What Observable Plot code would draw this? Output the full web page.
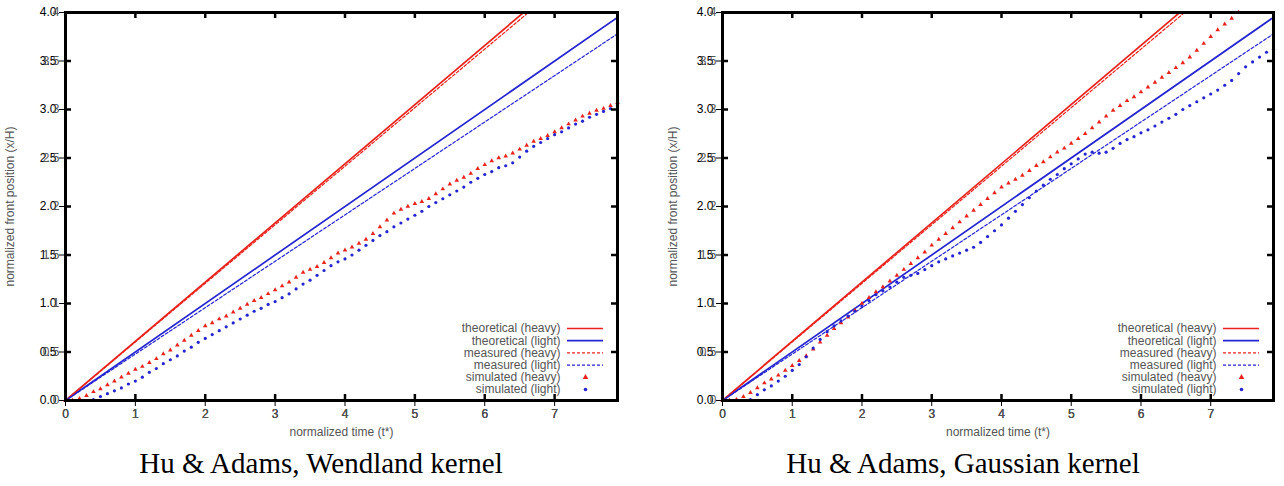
<!DOCTYPE html>
<html>
<head>
<meta charset="utf-8">
<script src="https://cdn.jsdelivr.net/npm/d3@7"></script>
<script src="https://cdn.jsdelivr.net/npm/@observablehq/plot@0.6"></script>
<style>
  body { margin: 0; background: #fff; }
  #wrap { position: relative; width: 1284px; height: 486px; overflow: hidden; }
  .panel { position: absolute; top: 0; width: 642px; height: 486px; }
  .panel svg.plot { position: absolute; left: 0; top: 0; }
  .caption { position: absolute; left: 0; top: 449px; width: 642px; text-align: center;
    font-family: "Liberation Serif", "Times New Roman", serif; font-size: 29px; line-height: 29px; color: #000; }
</style>
</head>
<body>
<div id="wrap"></div>
<script>
// ---------------- data ----------------
const captions = ["Hu & Adams, Wendland kernel", "Hu & Adams, Gaussian kernel"];
const xLabel = "normalized time (t*)";
const yLabel = "normalized front position (x/H)";
const xTicks = [0, 1, 2, 3, 4, 5, 6, 7];
const yTicks = [0, 0.5, 1, 1.5, 2, 2.5, 3, 3.5, 4];
const legendLabels = ["theoretical (heavy)", "theoretical (light)", "measured (heavy)", "measured (light)", "simulated (heavy)", "simulated (light)"];

// straight lines (endpoints)
const lineT = [0, 7.9];
const theoreticalHeavy = [0, 4.82];
const theoreticalLight = [0, 3.95];
const measuredHeavy = [0, 4.77];
const measuredLight = [0, 3.78];

// simulated samples
const simTime = [0.0,0.1,0.2,0.3,0.4,0.5,0.6,0.7,0.8,0.9,1.0,1.1,1.2,1.3,1.4,1.5,1.6,1.7,1.8,1.9,
  2.0,2.1,2.2,2.3,2.4,2.5,2.6,2.7,2.8,2.9,3.0,3.1,3.2,3.3,3.4,3.5,3.6,3.7,3.8,3.9,
  4.0,4.1,4.2,4.3,4.4,4.5,4.6,4.7,4.8,4.9,5.0,5.1,5.2,5.3,5.4,5.5,5.6,5.7,5.8,5.9,
  6.0,6.1,6.2,6.3,6.4,6.5,6.6,6.7,6.8,6.9,7.0,7.1,7.2,7.3,7.4,7.5,7.6,7.7,7.8,7.9];

const wendlandHeavy = [0.00,0.00,0.02,0.05,0.09,0.12,0.16,0.20,0.24,0.28,0.32,0.35,0.39,0.43,0.48,0.52,0.57,0.62,0.67,0.72,
  0.77,0.80,0.84,0.87,0.91,0.95,0.99,1.03,1.06,1.10,1.14,1.18,1.22,1.27,1.32,1.35,1.38,1.42,1.47,1.52,
  1.55,1.58,1.62,1.66,1.72,1.79,1.86,1.93,1.97,2.00,2.03,2.05,2.08,2.13,2.18,2.23,2.27,2.30,2.34,2.39,
  2.43,2.47,2.50,2.52,2.55,2.59,2.63,2.67,2.70,2.73,2.77,2.81,2.85,2.89,2.93,2.96,2.99,3.01,3.04,3.07];
const wendlandLight = [0.00,0.00,0.00,0.00,0.01,0.04,0.07,0.10,0.13,0.17,0.20,0.24,0.29,0.33,0.38,0.42,0.46,0.51,0.55,0.60,
  0.64,0.68,0.72,0.76,0.80,0.84,0.88,0.92,0.95,0.99,1.02,1.06,1.10,1.15,1.20,1.24,1.29,1.34,1.39,1.43,
  1.46,1.50,1.55,1.60,1.65,1.70,1.74,1.79,1.83,1.87,1.91,1.95,2.00,2.04,2.08,2.12,2.16,2.20,2.25,2.29,
  2.33,2.36,2.40,2.42,2.45,2.51,2.57,2.62,2.66,2.70,2.74,2.77,2.81,2.85,2.88,2.92,2.95,2.98,3.01,3.04];
const gaussianHeavy = [0.00,0.00,0.01,0.04,0.08,0.13,0.18,0.22,0.26,0.31,0.36,0.41,0.46,0.53,0.60,0.67,0.74,0.80,0.86,0.93,
  1.00,1.06,1.12,1.17,1.23,1.29,1.35,1.41,1.47,1.53,1.60,1.66,1.72,1.78,1.84,1.90,1.96,2.02,2.08,2.14,
  2.20,2.24,2.28,2.32,2.37,2.42,2.46,2.51,2.56,2.60,2.65,2.70,2.75,2.81,2.87,2.93,2.99,3.04,3.09,3.13,
  3.18,3.23,3.28,3.33,3.38,3.43,3.48,3.54,3.61,3.68,3.75,3.82,3.88,3.94,4.00];
const gaussianLight = [0.00,0.00,0.00,0.00,0.01,0.06,0.11,0.15,0.20,0.25,0.31,0.37,0.45,0.54,0.63,0.71,0.77,0.82,0.87,0.92,
  0.97,1.03,1.09,1.13,1.17,1.22,1.27,1.29,1.31,1.35,1.39,1.43,1.46,1.49,1.52,1.55,1.58,1.63,1.69,1.75,
  1.81,1.88,1.95,2.02,2.09,2.16,2.22,2.28,2.33,2.39,2.44,2.49,2.54,2.56,2.55,2.56,2.60,2.65,2.69,2.72,
  2.76,2.79,2.83,2.87,2.91,2.95,3.00,3.04,3.08,3.12,3.16,3.20,3.25,3.30,3.37,3.44,3.49,3.54,3.59,3.62];

// ---------------- drawing ----------------
const RED = "#e8231c";
const BLUE = "#2424d0";
const TEXT = "#555";
const FONT = "'Liberation Sans', Arial, sans-serif";
const toRows = (ts, vs) => vs.map((v, i) => ({t: ts[i], v}));

const panels = [
  {left: 0, marginLeft: 65, marginRight: 25, yLabelDx: -55, heavy: wendlandHeavy, light: wendlandLight},
  {left: 642, marginLeft: 80, marginRight: 11, yLabelDx: -49, heavy: gaussianHeavy, light: gaussianLight}
];

const W = 642, H = 440, MT = 12, MB = 40;
const innerH = H - MT - MB;
const TICK = 6;
const wrap = document.getElementById("wrap");

const legendStyles = [
  {kind: "line", color: RED, dash: null, w: 1.7},
  {kind: "line", color: BLUE, dash: null, w: 1.7},
  {kind: "line", color: RED, dash: "3,2", w: 1.2},
  {kind: "line", color: BLUE, dash: "3,2", w: 1.2},
  {kind: "triangle", color: RED},
  {kind: "circle", color: BLUE}
];

panels.forEach((p, k) => {
  const div = document.createElement("div");
  div.className = "panel";
  div.style.left = p.left + "px";
  wrap.appendChild(div);
  const innerW = W - p.marginLeft - p.marginRight;
  const common = {
    width: W, height: H,
    marginLeft: p.marginLeft, marginRight: p.marginRight, marginTop: MT, marginBottom: MB,
    style: {fontFamily: FONT, fontSize: "12px", background: "transparent", overflow: "visible"},
    x: {domain: [0, 7.9], label: null},
    y: {domain: [0, 4], label: null}
  };

  // legend marks, inside the frame at lower right
  const legendMarks = legendLabels.flatMap((label, i) => {
    const dy = -72 + i * 12.2;
    const s = legendStyles[i];
    const out = [Plot.text([label], {text: d => d, frameAnchor: "bottom-right", dx: -57, dy, textAnchor: "end", lineAnchor: "middle", fill: TEXT, fontSize: 12})];
    if (s.kind === "line") {
      out.push(Plot.ruleY([0], {y: d => d, dy, insetLeft: innerW - 50, insetRight: 14, stroke: s.color, strokeWidth: s.w, strokeDasharray: s.dash || undefined}));
    } else {
      out.push(Plot.dot([label], {frameAnchor: "bottom-right", dx: -32, dy, symbol: s.kind, r: s.kind === "triangle" ? 2.1 : 1.8, fill: s.color}));
    }
    return out;
  });

  // layer 1: data and legend
  const dataChart = Plot.plot({
    ...common,
    marks: [
      Plot.line(toRows(lineT, theoreticalHeavy), {x: "t", y: "v", stroke: RED, strokeWidth: 1.7, clip: true}),
      Plot.line(toRows(lineT, theoreticalLight), {x: "t", y: "v", stroke: BLUE, strokeWidth: 1.7, clip: true}),
      Plot.line(toRows(lineT, measuredHeavy), {x: "t", y: "v", stroke: RED, strokeWidth: 1.2, strokeDasharray: "3,2", clip: true}),
      Plot.line(toRows(lineT, measuredLight), {x: "t", y: "v", stroke: BLUE, strokeWidth: 1.2, strokeDasharray: "3,2", clip: true}),
      Plot.dot(toRows(simTime, p.heavy), {x: "t", y: "v", symbol: "triangle", r: 1.7, fill: RED}),
      Plot.dot(toRows(simTime, p.light), {x: "t", y: "v", symbol: "circle", r: 1.6, fill: BLUE}),
      ...legendMarks
    ]
  });
  dataChart.classList.add("plot");
  div.appendChild(dataChart);

  // layer 2: frame, inward ticks, tick labels and axis labels
  const frameChart = Plot.plot({
    ...common,
    marks: [
      Plot.ruleX(xTicks, {x: d => d, insetTop: innerH - TICK, stroke: "black", strokeWidth: 2.5}),
      Plot.ruleX(xTicks, {x: d => d, insetBottom: innerH - TICK, stroke: "black", strokeWidth: 2.5}),
      Plot.ruleY(yTicks, {y: d => d, insetRight: innerW - TICK, stroke: "black", strokeWidth: 2.5}),
      Plot.ruleY(yTicks, {y: d => d, insetLeft: innerW - TICK, stroke: "black", strokeWidth: 2.5}),
      Plot.frame({stroke: "black", strokeWidth: 3}),
      Plot.axisX({ticks: xTicks, anchor: "bottom", tickSize: 0, tickPadding: 9, fill: TEXT, label: null, tickFormat: d => String(d)}),
      Plot.axisY({ticks: yTicks, anchor: "left", tickSize: 0, tickPadding: 6, fill: TEXT, label: null, tickFormat: d => String(d)}),
      Plot.text([xLabel], {text: d => d, frameAnchor: "bottom", dy: 32, lineAnchor: "middle", fill: TEXT, fontSize: 12}),
      Plot.text([yLabel], {text: d => d, frameAnchor: "left", dx: p.yLabelDx, rotate: -90, lineAnchor: "middle", textAnchor: "middle", fill: TEXT, fontSize: 12})
    ]
  });
  frameChart.classList.add("plot");
  div.appendChild(frameChart);

  const cap = document.createElement("div");
  cap.className = "caption";
  cap.textContent = captions[k];
  div.appendChild(cap);
});
</script>
</body>
</html>
